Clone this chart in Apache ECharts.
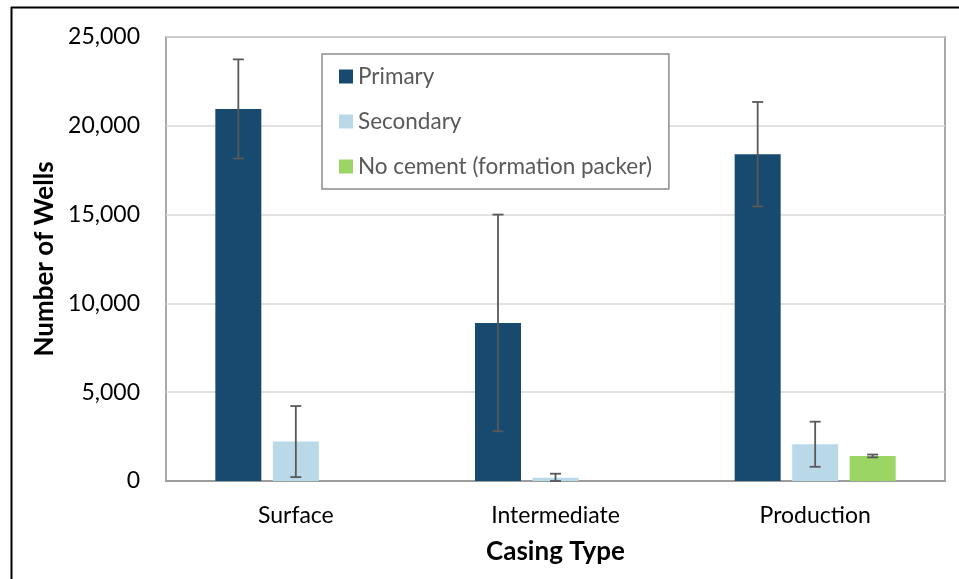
<!DOCTYPE html>
<html>
<head>
<meta charset="utf-8">
<script src="https://cdn.jsdelivr.net/npm/echarts@6/dist/echarts.min.js"></script>
<style>
    html, body {margin: 0; padding: 0; background: #fff;}
    #chart {width: 959px; height: 579px;}
</style>
</head>
<body>
<div id="chart"></div>
<script>
// casing types along the x axis
const categories = ['Surface', 'Intermediate', 'Production'];
const seriesNames = ['Primary', 'Secondary', 'No cement (formation packer)'];

// number of wells per casing type, and the +/- error for each bar
const primary = [20950, 8900, 18400];
const primaryErr = [2790, 6100, 2940];
const secondary = [2220, 190, 2070];
const secondaryErr = [2000, 220, 1270];
const noCement = [null, null, 1410];
const noCementErr = [null, null, 80];

const yTicks = [0, 5000, 10000, 15000, 20000, 25000];

const colors = ['#174a6e', '#b9d9e9', '#9bd564'];
const BAR_W = 46;
const BAR_GAP = 11.5;
const FONT = 'Lato, "Open Sans", sans-serif';

const chart = echarts.init(document.getElementById('chart'));

function errorData(values, errs) {
    let out = [];
    values.forEach((v, i) => {
        if (v === null || errs[i] === null) return;
        out.push([i, Math.max(0, v - errs[i]), v + errs[i]]);
    });
    return out;
}

function errorSeries(values, errs, idx) {
    // offset of this bar from category centre (3 bars per group)
    const offset = (idx - 1) * (BAR_W + BAR_GAP);
    return {
        type: 'custom',
        z: 5,
        silent: true,
        data: errorData(values, errs),
        encode: {x: 0, y: [1, 2]},
        renderItem: function (params, api) {
            const lo = api.coord([api.value(0), api.value(1)]);
            const hi = api.coord([api.value(0), api.value(2)]);
            const x = lo[0] + offset;
            const cap = 5.5;
            const style = {stroke: '#595959', lineWidth: 1.8};
            return {
                type: 'group',
                children: [
                    {type: 'line', shape: {x1: x, y1: hi[1], x2: x, y2: lo[1]}, style},
                    {type: 'line', shape: {x1: x - cap, y1: hi[1], x2: x + cap, y2: hi[1]}, style},
                    {type: 'line', shape: {x1: x - cap, y1: lo[1], x2: x + cap, y2: lo[1]}, style}
                ]
            };
        }
    };
}

function barSeries(name, values, color) {
    return {
        name,
        type: 'bar',
        data: values,
        barWidth: BAR_W,
        barGap: (BAR_GAP / BAR_W * 100) + '%',
        itemStyle: {color},
        z: 2
    };
}

const option = {
    animation: false,
    textStyle: {fontFamily: FONT},
    grid: {left: 166, top: 37, right: 14, bottom: 98, show: true, borderColor: '#8c8c8c', borderWidth: 1.5},
    legend: {
        orient: 'vertical',
        left: 322,
        top: 54,
        data: seriesNames,
        icon: 'rect',
        itemWidth: 14,
        itemHeight: 14,
        itemGap: 22,
        padding: [11, 17, 11, 17],
        backgroundColor: '#fff',
        borderColor: '#8c8c8c',
        borderWidth: 1.5,
        textStyle: {fontFamily: FONT, fontSize: 22.5, color: '#595959', lineHeight: 20}
    },
    xAxis: {
        type: 'category',
        data: categories,
        name: 'Casing Type',
        nameLocation: 'middle',
        nameGap: 58,
        nameTextStyle: {fontFamily: FONT, fontSize: 26, fontWeight: 'bold', color: '#000'},
        axisLine: {show: true, lineStyle: {color: '#8c8c8c', width: 1.5}},
        axisTick: {show: false},
        axisLabel: {fontFamily: FONT, fontSize: 23, color: '#000', margin: 23}
    },
    yAxis: {
        type: 'value',
        min: yTicks[0],
        max: yTicks[yTicks.length - 1],
        interval: yTicks[1] - yTicks[0],
        name: 'Number of Wells',
        nameLocation: 'middle',
        nameGap: 108,
        nameTextStyle: {fontFamily: FONT, fontSize: 26, fontWeight: 'bold', color: '#000'},
        axisLine: {show: false},
        axisTick: {show: false},
        splitLine: {lineStyle: {color: '#d9d9d9', width: 1.5}},
        axisLabel: {
            fontFamily: FONT, fontSize: 23, color: '#000', margin: 26,
            formatter: v => v.toLocaleString('en-US')
        }
    },
    graphic: [
        {type: 'line', shape: {x1: 11.5, y1: 7, x2: 11.5, y2: 579}, style: {stroke: '#000', lineWidth: 2}},
        {type: 'line', shape: {x1: 11, y1: 7.5, x2: 959, y2: 7.5}, style: {stroke: '#000', lineWidth: 2}}
    ],
    series: [
        barSeries(seriesNames[0], primary, colors[0]),
        barSeries(seriesNames[1], secondary, colors[1]),
        barSeries(seriesNames[2], noCement, colors[2]),
        errorSeries(primary, primaryErr, 0),
        errorSeries(secondary, secondaryErr, 1),
        errorSeries(noCement, noCementErr, 2)
    ]
};

chart.setOption(option);
</script>
</body>
</html>
